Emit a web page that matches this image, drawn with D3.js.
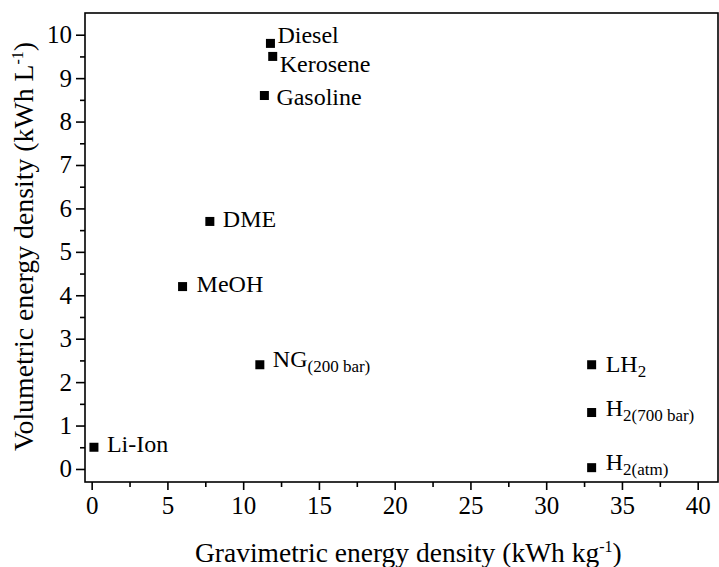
<!DOCTYPE html>
<html>
<head>
  <meta charset="utf-8">
  <script src="https://d3js.org/d3.v7.min.js"></script>
  <style>
    body { margin: 0; background: #fff; }
    svg text { font-family: "Liberation Serif", "Times New Roman", Times, serif !important; fill: #000; }
    .axis path, .axis line { stroke: #000; stroke-width: 1.6; }
  </style>
</head>
<body>
  <div id="chart"></div>
  <script>
    // fuels and their energy densities
    const fuels = ["Diesel", "Kerosene", "Gasoline", "DME", "MeOH", "NG", "Li-Ion", "LH", "H", "H"];
    const fuelSubs = ["", "", "", "", "", "(200 bar)", "", "2", "2(700 bar)", "2(atm)"];
    const gravimetric = [11.8, 11.95, 11.4, 7.8, 6.0, 11.1, 0.15, 33.0, 33.0, 33.0];   // kWh/kg
    const volumetric = [9.8, 9.5, 8.6, 5.7, 4.2, 2.4, 0.5, 2.4, 1.3, 0.03];            // kWh/L
    const xTicks = [0, 5, 10, 15, 20, 25, 30, 35, 40];
    const yTicks = [0, 1, 2, 3, 4, 5, 6, 7, 8, 9, 10];

    // label offsets from the marker (layout only)
    const labelDx = [7, 7, 12, 13, 14, 13, 13, 14, 14, 14];
    const labelDy = [0, 16, 9, 6, 5, 2, 5, 7, 3, 2];

    const width = 719, height = 567;
    const m = { left: 85, right: 718, top: 13, bottom: 482 };
    const serif = "'Liberation Serif', 'Times New Roman', serif";

    const svg = d3.select("#chart").append("svg")
      .attr("width", width)
      .attr("height", height)
      .attr("font-family", serif);

    const x = d3.scaleLinear().domain([-0.44, 41.34]).range([m.left, m.right]);
    const y = d3.scaleLinear().domain([-0.3, 10.5]).range([m.bottom, m.top]);

    // frame
    svg.append("rect")
      .attr("x", m.left).attr("y", m.top)
      .attr("width", m.right - m.left).attr("height", m.bottom - m.top)
      .attr("fill", "none").attr("stroke", "#000").attr("stroke-width", 1.6);

    // minor ticks
    svg.append("g").attr("class", "axis")
      .attr("transform", "translate(0," + m.bottom + ")")
      .call(d3.axisBottom(x).tickValues(d3.range(2.5, 41, 5)).tickSize(5).tickFormat(""))
      .select(".domain").remove();
    svg.append("g").attr("class", "axis")
      .attr("transform", "translate(" + m.left + ",0)")
      .call(d3.axisLeft(y).tickValues(d3.range(0.5, 10.5, 1)).tickSize(5).tickFormat(""))
      .select(".domain").remove();

    // major ticks
    const xAxis = svg.append("g").attr("class", "axis")
      .attr("transform", "translate(0," + m.bottom + ")")
      .call(d3.axisBottom(x).tickValues(xTicks).tickSize(8).tickPadding(6));
    xAxis.select(".domain").remove();

    const yAxis = svg.append("g").attr("class", "axis")
      .attr("transform", "translate(" + m.left + ",0)")
      .call(d3.axisLeft(y).tickValues(yTicks).tickSize(9).tickPadding(4));
    yAxis.select(".domain").remove();

    svg.selectAll(".axis").attr("font-family", serif).attr("font-size", 25);

    // markers
    const sq = 9;
    svg.append("g").selectAll("rect")
      .data(fuels)
      .enter().append("rect")
      .attr("x", (d, i) => x(gravimetric[i]) - sq / 2)
      .attr("y", (d, i) => y(volumetric[i]) - sq / 2)
      .attr("width", sq).attr("height", sq)
      .attr("fill", "#000");

    // labels
    const labels = svg.append("g").selectAll("text")
      .data(fuels)
      .enter().append("text")
      .attr("x", (d, i) => x(gravimetric[i]) + labelDx[i])
      .attr("y", (d, i) => y(volumetric[i]) + labelDy[i])
      .style("font-size", "24px");
    labels.append("tspan").text(d => d);
    labels.append("tspan")
      .attr("dy", 5)
      .style("font-size", "17px")
      .text((d, i) => fuelSubs[i]);

    // axis titles
    const xt = svg.append("text")
      .attr("x", 195)
      .attr("y", 562)
      .style("font-size", "27.5px");
    xt.append("tspan").text("Gravimetric energy density (kWh kg");
    xt.append("tspan").attr("dy", -10).style("font-size", "16px").text("-1");
    xt.append("tspan").attr("dy", 10).text(")");

    const yt = svg.append("text")
      .attr("transform", "translate(33,451) rotate(-90)")
      .style("font-size", "27.8px");
    yt.append("tspan").text("Volumetric energy density (kWh L");
    yt.append("tspan").attr("dy", -10).style("font-size", "16px").text("-1");
    yt.append("tspan").attr("dy", 10).text(")");
  </script>
</body>
</html>
